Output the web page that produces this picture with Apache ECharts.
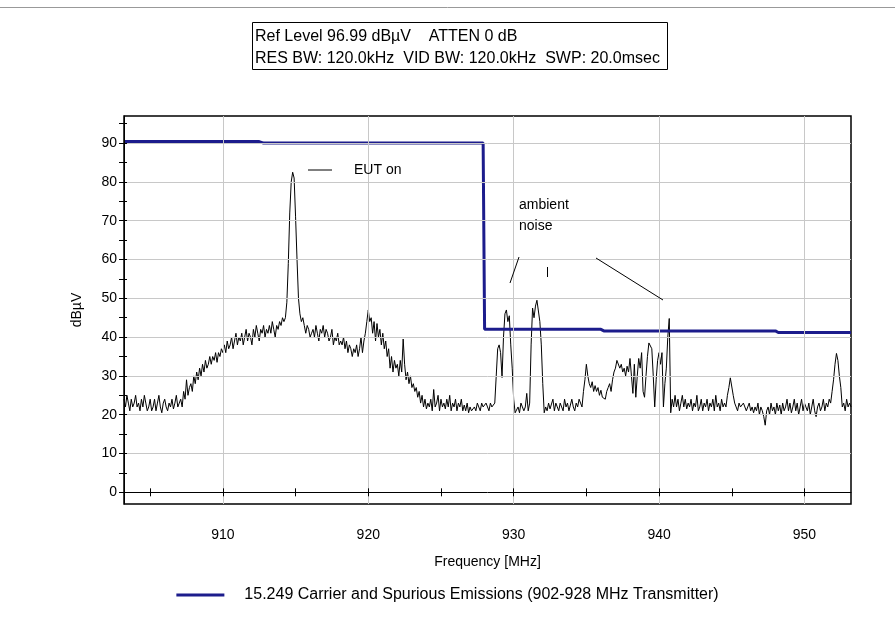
<!DOCTYPE html>
<html>
<head>
<meta charset="utf-8">
<script src="https://cdn.jsdelivr.net/npm/echarts@6/dist/echarts.min.js"></script>
<style>
  html, body { margin: 0; padding: 0; background: #fff; }
  #chart { width: 895px; height: 639px; }
</style>
</head>
<body>
<div id="chart"></div>
<script>
// sweep grid of the analyser trace (MHz)
var freqStart = 903.2;
var freqStep = 0.1;

// measured level, dBuV, one value per 0.1 MHz (10 per row = 1 MHz)
var level = [
  24, 22, 25, 23, 21, 24, 22, 23, 25, 22,
  23, 21, 24, 22, 25, 23, 21, 22, 24, 21,
  22, 24, 21, 23, 25, 22, 20.5, 23, 24, 22,
  21, 23, 22, 24, 21.5, 23, 25, 22, 23, 24,
  22, 26, 24, 29, 25, 27, 28, 26, 30, 28,
  31, 29, 32, 30, 33, 31, 34, 32, 33, 35,
  33, 35, 34, 36, 33.5, 36, 35, 37, 36, 38,
  36, 39, 37, 38, 40, 37, 39, 41, 38, 40,
  39, 41, 38, 40, 42, 39, 41, 40, 38, 42,
  40, 43, 41, 39, 42, 41, 43, 40, 42, 41,
  43, 41, 44, 42, 40, 43, 42, 44, 43, 45,
  44, 45, 49, 59, 72, 80, 82.5, 81, 71, 60,
  50, 46, 44, 45, 43, 41, 43, 42, 40, 41,
  42, 40, 43, 41, 39, 42, 41, 43, 40, 42,
  41, 39, 40, 42, 38, 40, 39, 41, 38, 39,
  38, 40, 37, 39, 36, 38, 37, 35, 37, 36,
  38, 35, 37, 40, 36, 39, 41, 44, 47, 44,
  45, 41, 44, 39, 43.5, 40, 42, 38, 41, 37,
  39, 35, 37, 32, 35, 31, 34, 32, 33, 30,
  34, 31, 39.5, 33, 29, 31, 28, 30, 27, 28,
  26, 27, 24.5, 26, 23, 25, 22, 24, 21.5, 23,
  22, 24, 21, 26.5, 22, 23, 25, 21, 24, 22,
  23, 21.5, 24, 22, 25, 21, 23, 22, 24, 21,
  23, 22, 24, 21, 22.5, 21, 23, 20.5, 22, 21,
  20.5, 22, 21, 23, 22, 21, 23, 22, 21.5, 23,
  22, 21, 23, 22, 21.5, 23, 23, 37, 38, 36,
  29.6, 40, 46, 47, 44, 45.5, 38, 32, 24, 20.5,
  21, 22, 20.5, 23, 22, 21, 22, 25.5, 21, 23,
  38, 47.5, 45, 48, 49.5, 50, 44, 38, 28, 20.5,
  22, 21, 23, 21.5, 22, 24, 21, 23, 22, 21,
  23, 22, 21, 24, 22, 23, 21, 22.5, 24, 22,
  21, 23, 22, 24, 23, 22, 26, 29, 33, 30,
  28, 27, 28.5, 26, 27.5, 26, 27, 25, 26.3, 24.5,
  25, 24, 26, 27, 28, 26, 29, 31, 32, 34,
  34, 32, 33, 31, 32, 30, 32.5, 31, 34.5, 35,
  25.5, 33, 24.5, 30, 34.5, 32, 36, 26, 24.5, 30,
  35, 38.5, 38, 37, 30, 22, 29, 34, 36, 33,
  36, 22, 28, 32, 40, 44.8, 20.5, 24, 22, 25,
  22, 24, 21, 23, 25, 22, 24, 21.5, 23, 22,
  24, 21, 23, 22, 25, 21, 22, 24, 21, 23,
  22, 24, 21, 23, 22, 24, 21, 25, 22, 23,
  21, 24, 22, 23, 22, 25, 27, 29.5, 29, 25,
  23, 22, 21, 23, 22, 21.5, 23, 22, 21, 22,
  23, 21, 22, 20.5, 22, 21, 23, 20, 22, 21,
  19.5, 17.3, 21, 22, 20, 23, 21, 22, 20, 23,
  21, 22.5, 20, 23, 21, 22, 24, 21, 23, 20.5,
  22, 24, 21, 23, 20, 22, 24, 21, 23, 22,
  21, 23, 20, 22, 24, 21, 19.5, 22, 23, 21,
  22, 24, 21, 23, 22, 24, 23, 26, 29, 33,
  35.8, 34, 30, 27, 22, 23, 21, 24, 22, 23,
  22
];

// limit line (15.249)
var limitName = '15.249 Carrier and Spurious Emissions (902-928 MHz Transmitter)';
var limitFreq  = [903.2, 912.5, 912.8, 927.9, 928.0, 936.0, 936.2, 948.0, 948.2, 953.2];
var limitLevel = [90.4, 90.4, 90.0, 90.0, 42.0, 42.0, 41.6, 41.6, 41.2, 41.2];

// axes
var xMin = 903.2, xMax = 953.2;
var yMin = -3.01, yMax = 96.99;
var xTicks  = [905, 910, 915, 920, 925, 930, 935, 940, 945, 950];
var xLabels = [910, 920, 930, 940, 950];
var yTicks  = [0, 5, 10, 15, 20, 25, 30, 35, 40, 45, 50, 55, 60, 65, 70, 75, 80, 85, 90, 95];
var yLabels = [0, 10, 20, 30, 40, 50, 60, 70, 80, 90];
var yGrid   = [10, 20, 30, 40, 50, 60, 70, 80, 90];

var headerLine1 = 'Ref Level 96.99 dB\u00b5V    ATTEN 0 dB';
var headerLine2 = 'RES BW: 120.0kHz  VID BW: 120.0kHz  SWP: 20.0msec';

var FONT = '"Liberation Sans", Arial, sans-serif';

var tracePoints = level.map(function (v, i) {
  return [Math.round((freqStart + i * freqStep) * 10) / 10, v];
});
var limitPoints = limitFreq.map(function (f, i) { return [f, limitLevel[i]]; });

var gridMarks = xLabels.map(function (v) { return { xAxis: v }; })
  .concat(yGrid.map(function (v) { return { yAxis: v }; }));

var myChart = echarts.init(document.getElementById('chart'));

var black = { color: '#000', width: 1 };

var option = {
  animation: false,
  backgroundColor: '#fff',
  textStyle: { fontFamily: FONT, color: '#000' },
  grid: {
    left: 124, right: 44, top: 116, bottom: 135,
    show: true, backgroundColor: '#fff', borderColor: '#000', borderWidth: 1.5
  },
  legend: {
    data: [limitName],
    left: 'center',
    top: 582,
    icon: 'rect',
    itemWidth: 48,
    itemHeight: 3,
    textStyle: { fontSize: 16, color: '#000', fontFamily: FONT, padding: [0, 0, 0, 15] }
  },
  xAxis: [{
    type: 'value', min: xMin, max: xMax, z: 5,
    axisLine: { onZero: true, lineStyle: black },
    axisTick: { customValues: xTicks, length: 4, lineStyle: black },
    axisLabel: { customValues: xLabels, margin: 24, fontSize: 14, color: '#000', fontFamily: FONT },
    splitLine: { show: false },
    name: 'Frequency [MHz]', nameLocation: 'middle', nameGap: 51,
    nameTextStyle: { fontSize: 14, color: '#000', fontFamily: FONT }
  }, {
    type: 'value', min: xMin, max: xMax, position: 'bottom', z: 5,
    axisLine: { onZero: true, show: false },
    axisTick: { customValues: xTicks, inside: true, length: 4, lineStyle: black },
    axisLabel: { show: false },
    splitLine: { show: false }
  }],
  yAxis: [{
    type: 'value', min: yMin, max: yMax, position: 'left', z: 5,
    axisLine: { show: true, onZero: false, lineStyle: black },
    axisTick: { customValues: yTicks, length: 5, lineStyle: black },
    axisLabel: { customValues: yLabels, margin: 7, fontSize: 14, color: '#000', fontFamily: FONT },
    splitLine: { show: false },
    name: 'dB\u00b5V', nameLocation: 'middle', nameGap: 40, nameRotate: 90,
    nameTextStyle: { fontSize: 14, color: '#000', fontFamily: FONT }
  }, {
    type: 'value', min: yMin, max: yMax, position: 'left', z: 5,
    axisLine: { show: false, onZero: false },
    axisTick: { customValues: yTicks, inside: true, length: 3, lineStyle: black },
    axisLabel: { show: false },
    splitLine: { show: false }
  }],
  series: [{
    name: 'grid',
    type: 'line',
    data: [],
    z: 1,
    silent: true,
    markLine: {
      silent: true,
      animation: false,
      symbol: ['none', 'none'],
      label: { show: false },
      lineStyle: { color: '#c8c8c8', type: 'solid', width: 1 },
      data: gridMarks
    }
  }, {
    name: 'trace',
    type: 'line',
    data: tracePoints,
    showSymbol: false,
    color: '#000',
    lineStyle: { color: '#000', width: 1 },
    z: 3
  }, {
    name: limitName,
    type: 'line',
    data: limitPoints,
    showSymbol: false,
    color: '#1c1c8c',
    lineStyle: { color: '#1c1c8c', width: 3 },
    z: 4
  }],
  graphic: [
    { type: 'line', shape: { x1: 0, y1: 7.5, x2: 895, y2: 7.5 }, style: { stroke: '#999', lineWidth: 1 }, z: 10 },
    { type: 'rect', shape: { x: 252.5, y: 22.5, width: 415, height: 47 }, style: { fill: '#fff', stroke: '#000', lineWidth: 1 }, z: 10 },
    { type: 'text', x: 255, y: 37, style: { text: headerLine1, font: '16px ' + FONT, fill: '#000', verticalAlign: 'middle' }, z: 11 },
    { type: 'text', x: 255, y: 59, style: { text: headerLine2, font: '16px ' + FONT, fill: '#000', verticalAlign: 'middle' }, z: 11 },
    // annotation backgrounds
    { type: 'rect', shape: { x: 283, y: 146, width: 130, height: 54 }, style: { fill: '#fff' }, z: 2 },
    { type: 'rect', shape: { x: 498, y: 188, width: 98, height: 74 }, style: { fill: '#fff' }, z: 2 },
    { type: 'rect', shape: { x: 596, y: 256, width: 67, height: 44 }, style: { fill: '#fff' }, z: 2 },
    // annotations
    { type: 'line', shape: { x1: 308, y1: 170, x2: 332, y2: 170 }, style: { stroke: '#000', lineWidth: 1 }, z: 10 },
    { type: 'text', x: 354, y: 170, style: { text: 'EUT on', font: '14px ' + FONT, fill: '#000', verticalAlign: 'middle' }, z: 10 },
    { type: 'text', x: 519, y: 205, style: { text: 'ambient', font: '14px ' + FONT, fill: '#000', verticalAlign: 'middle' }, z: 10 },
    { type: 'text', x: 519, y: 226, style: { text: 'noise', font: '14px ' + FONT, fill: '#000', verticalAlign: 'middle' }, z: 10 },
    { type: 'line', shape: { x1: 519, y1: 257, x2: 510, y2: 283 }, style: { stroke: '#000', lineWidth: 1 }, z: 10 },
    { type: 'line', shape: { x1: 547.5, y1: 267, x2: 547.5, y2: 277 }, style: { stroke: '#000', lineWidth: 1 }, z: 10 },
    { type: 'line', shape: { x1: 596, y1: 258, x2: 663, y2: 300 }, style: { stroke: '#000', lineWidth: 1 }, z: 10 }
  ]
};

myChart.setOption(option);
</script>
</body>
</html>
